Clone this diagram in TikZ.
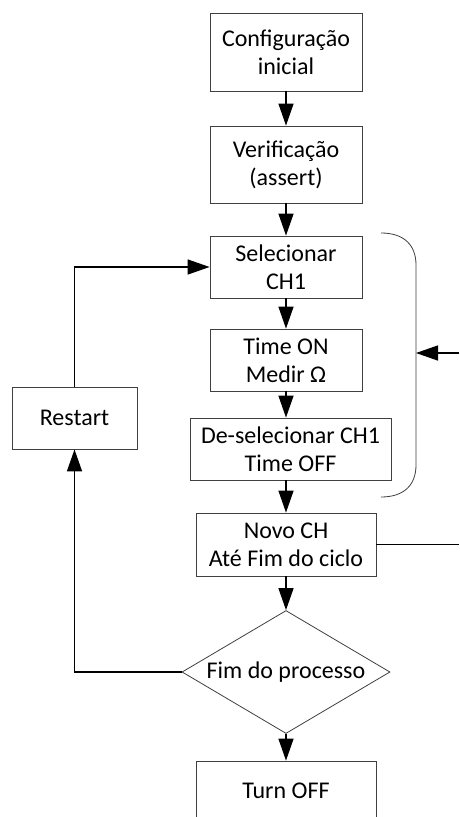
\documentclass[tikz,border=0pt]{standalone}
\usepackage{fontspec}
\setmainfont{Carlito}
\usetikzlibrary{shapes.geometric,arrows.meta}
\begin{document}
\begin{tikzpicture}[x=1pt,y=-1pt,
  every node/.style={font=\fontsize{24}{28}\selectfont, align=center, inner sep=0pt},
  box/.style={draw=black!75, line width=0.8pt, rectangle, fill=white},
  dec/.style={draw=black!75, line width=0.8pt, diamond, shape aspect=1.69, minimum width=208pt, minimum height=123pt},
  conn/.style={draw=black, line width=1.4pt, -{Triangle[length=22pt,width=15pt]}},
  plain/.style={draw=black, line width=1.4pt},
  brace/.style={draw=black!75, line width=0.8pt}]
\clip (0,0) rectangle (459,817);
\fill[white] (0,0) rectangle (459,817);
\node[box, minimum width=152pt, minimum height=78pt] (cfg) at (286,52) {Configuração\\inicial};
\node[box, minimum width=152pt, minimum height=77pt] (ver) at (286,164.5) {Verificação\\(assert)};
\node[box, minimum width=152pt, minimum height=62pt] (sel) at (286,267) {Selecionar\\CH1};
\node[box, minimum width=152pt, minimum height=62pt] (ton) at (286,360) {Time ON\\Medir Ω};
\node[box, minimum width=201pt, minimum height=62pt] (des) at (290.5,449) {De-selecionar CH1\\Time OFF};
\node[box, minimum width=180pt, minimum height=63pt] (novo) at (286,544.5) {Novo CH\\Até Fim do ciclo};
\node[dec] (fim) at (286,672) {Fim do processo};
\node[box, minimum width=180pt, minimum height=60pt] (off) at (286,791) {Turn OFF};
\node[box, minimum width=125pt, minimum height=62pt] (rst) at (74.5,418) {Restart};
\coordinate (b1) at (416,353);
\coordinate (rin) at (459,353);
\coordinate (nout) at (459,544.5);
\draw[brace] (381,233) .. controls (404,233) and (416,245) .. (416,265) -- (416,465) .. controls (416,485) and (404,497) .. (381,497);
\draw[conn] (cfg) -- (ver);
\draw[conn] (ver) -- (sel);
\draw[conn] (sel) -- (ton);
\draw[conn] (ton.south) -- (ton.south |- des.north);
\draw[conn] (novo.north |- des.south) -- (novo.north);
\draw[conn] (novo) -- (fim);
\draw[conn] (fim) -- (off);
\draw[conn] (fim.west) -| (rst.south);
\draw[conn] (rst.north) |- (sel.west);
\draw[conn] (rin) -- (b1);
\draw[plain] (novo.east) -- (nout);
\end{tikzpicture}
\end{document}
